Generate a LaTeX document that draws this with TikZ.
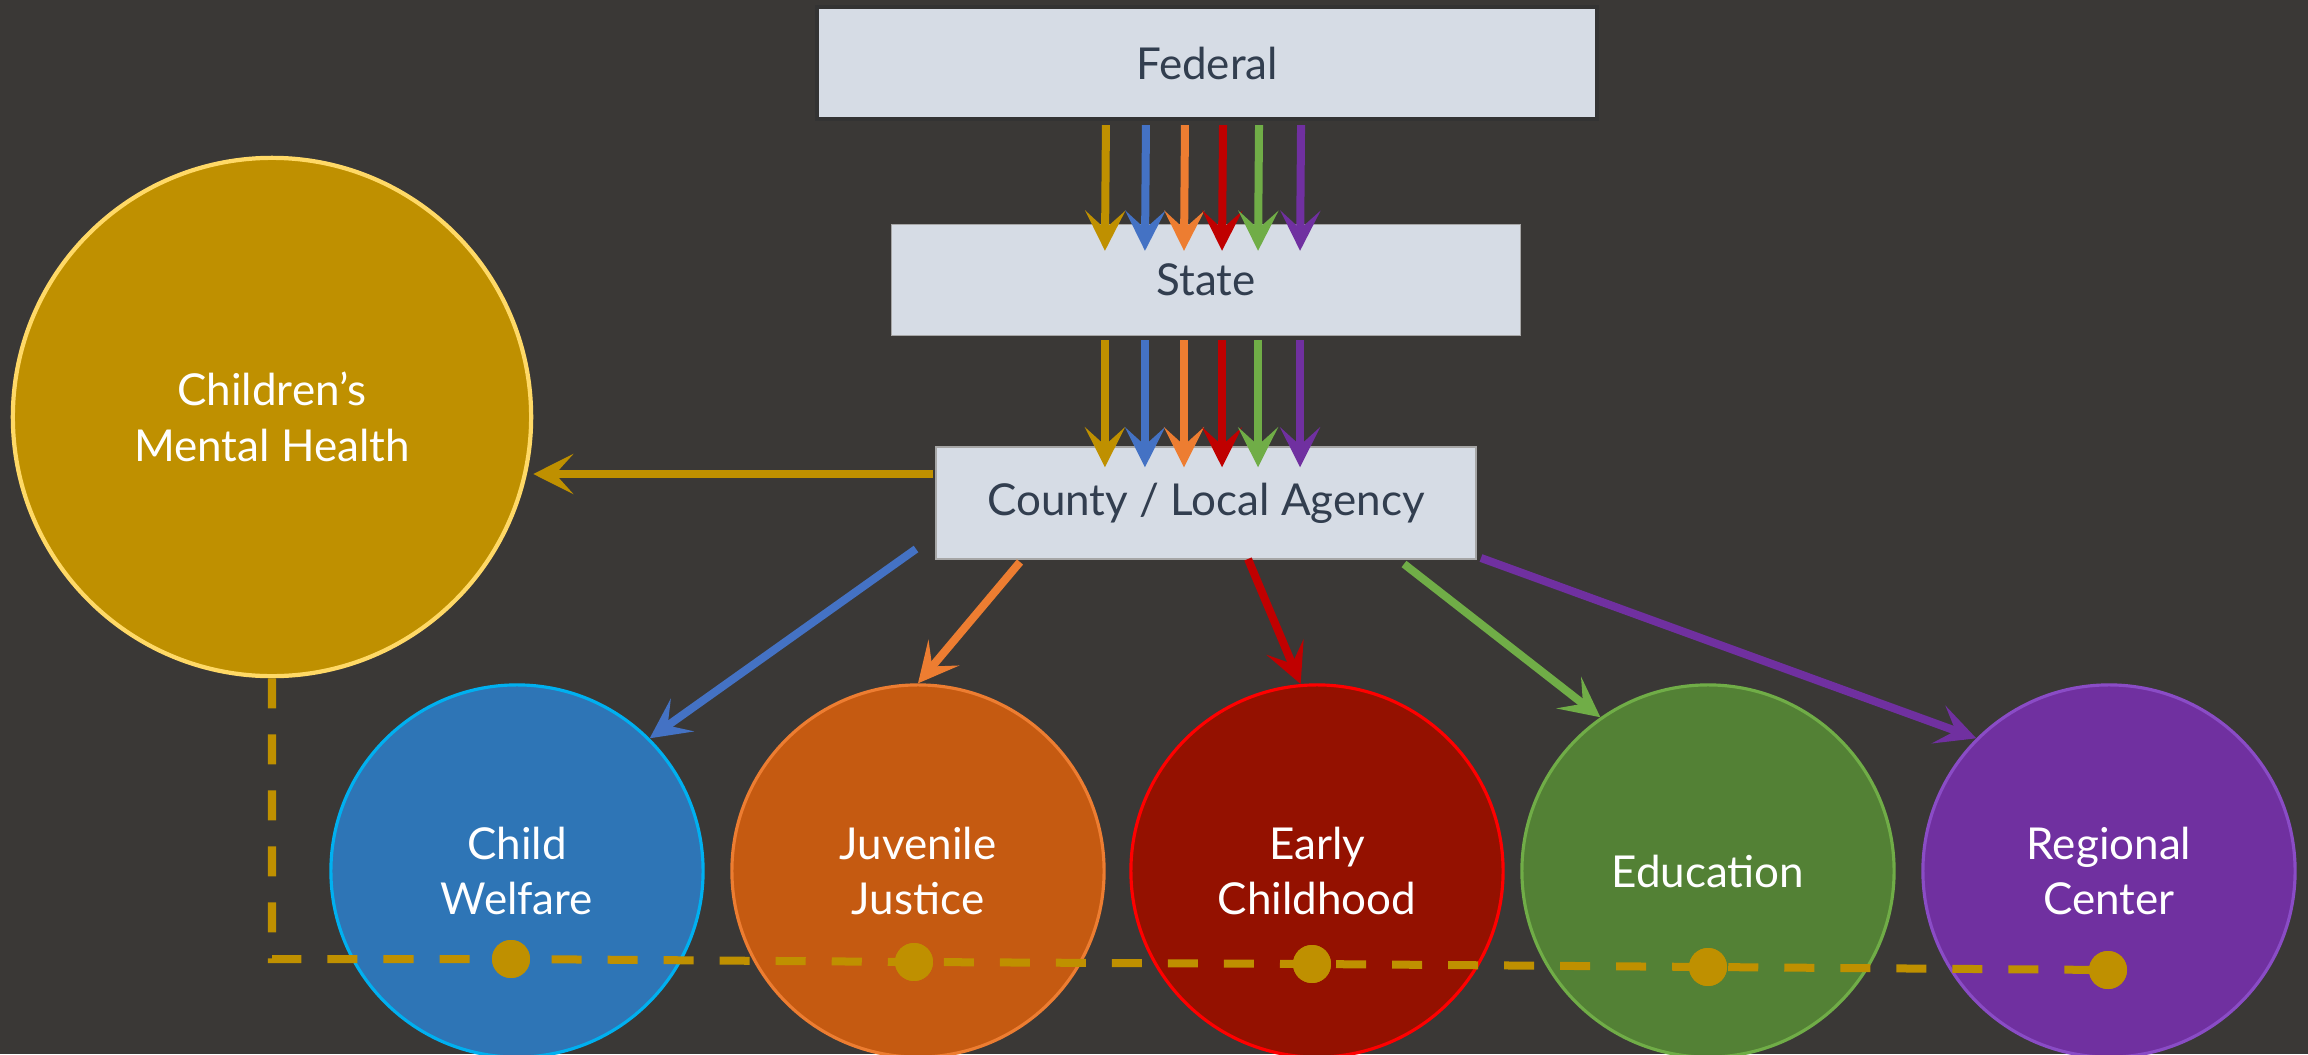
\documentclass[tikz,border=0pt]{standalone}
\usepackage{fontspec}
\setmainfont{Lato}
\usetikzlibrary{arrows.meta}
\definecolor{bg}{HTML}{3A3836}
\definecolor{boxfill}{HTML}{D6DCE5}
\definecolor{boxtext}{HTML}{323E4F}
\definecolor{cgold}{HTML}{BF9000}
\definecolor{cgoldln}{HTML}{FFD966}
\definecolor{cblue}{HTML}{4472C4}
\definecolor{cbluefill}{HTML}{2E75B6}
\definecolor{cblueln}{HTML}{00B0F0}
\definecolor{corange}{HTML}{ED7D31}
\definecolor{corangefill}{HTML}{C55A11}
\definecolor{cred}{HTML}{C00000}
\definecolor{credfill}{HTML}{941100}
\definecolor{credln}{HTML}{FF0000}
\definecolor{cgreen}{HTML}{70AD47}
\definecolor{cgreenfill}{HTML}{538135}
\definecolor{cpurple}{HTML}{7030A0}
\definecolor{cpurpleln}{HTML}{8A4CC6}
\tikzset{
  levelbox/.style={rectangle, fill=boxfill, draw=#1, line width=0.4pt, text=boxtext,
    font=\fontsize{12.5}{15}\selectfont, inner sep=0pt},
  bigcirc/.style={circle, minimum size=5.18cm, fill=cgold, draw=cgoldln, line width=1.2pt,
    text=white, align=center, font=\fontsize{12.5}{16}\selectfont},
  agency/.style 2 args={circle, minimum size=3.72cm, fill=#1, draw=#2, line width=0.9pt,
    text=white, align=center, font=\fontsize{12.5}{15.5}\selectfont},
  flow/.style={draw=#1, line width=0.08cm,
    -{Stealth[length=0.4cm, width=0.4cm, inset=0.18cm, fill=#1]}},
  dashline/.style={draw=cgold, line width=0.08cm, dash pattern=on 0.3cm off 0.26cm},
  linkdot/.style={circle, fill=cgold, minimum size=0.38cm, inner sep=0pt}
}
\begin{document}
\begin{tikzpicture}[x=0.01cm, y=-0.01cm]
\fill[bg] (0,0) rectangle (2308,1054);
\useasboundingbox (0,0) rectangle (2308,1054);

% circles
\node[bigcirc] (cmh) at (272,417) {Children’s\\Mental Health};
\node[agency={cbluefill}{cblueln}] (cw) at (517,871) {Child\\Welfare};
\node[agency={corangefill}{corange}] (jj) at (918,871) {Juvenile\\Justice};
\node[agency={credfill}{credln}] (ec) at (1317,871) {Early\\Childhood};
\node[agency={cgreenfill}{cgreen}] (ed) at (1708,871) {Education};
\node[agency={cpurple}{cpurpleln}] (rc) at (2109,871) {Regional\\Center};

% dashed link with dots
\node[linkdot] (d1) at (511,959) {};
\node[linkdot] (d2) at (914,962) {};
\node[linkdot] (d3) at (1312,964) {};
\node[linkdot] (d4) at (1708,967) {};
\node[linkdot] (d5) at (2108,970) {};
\draw[dashline] (cmh.south) |- (d1.center) -- (d2.center) -- (d3.center) -- (d4.center) -- (d5.center);
\foreach \d in {d1,d2,d3,d4,d5} \node[linkdot] at (\d) {};

% level boxes
\node[levelbox={black!80}, minimum width=7.8cm, minimum height=1.12cm, line width=1.2pt] (fed) at (1207,63) {Federal};
\node[levelbox={black!35}, minimum width=6.29cm, minimum height=1.11cm] (state) at (1206,280) {State};
\node[levelbox={black!35}, minimum width=5.4cm, minimum height=1.12cm] (county) at (1206,503) {County / Local Agency};

% vertical flows
\foreach \c/\dx in {cgold/-1.01, cblue/-0.61, corange/-0.22, cred/0.16, cgreen/0.52, cpurple/0.94}{
  \draw[flow=\c] ([xshift=\dx cm, yshift=-0.04cm]fed.south) -- ([xshift=\dx cm, yshift=-0.27cm]state.north);
  \draw[flow=\c] ([xshift=\dx cm, yshift=-0.04cm]state.south) -- ([xshift=\dx cm, yshift=-0.21cm]county.north);
}

% flows from county
\coordinate (sg) at (933,474);
\coordinate (sb) at (916,549);
\coordinate (so) at (1020,562);
\coordinate (sr) at (1248,559);
\coordinate (sn) at (1404,564);
\coordinate (sp) at (1481,558);
\draw[flow=cgold] (sg) -- (sg -| cmh.east);
\draw[flow=cblue] (sb) -- (cw.45);
\draw[flow=corange] (so) -- (jj.90);
\draw[flow=cred] (sr) -- (ec.95);
\draw[flow=cgreen] (sn) -- (ed.125);
\draw[flow=cpurple] (sp) -- (rc.135);
\end{tikzpicture}
\end{document}
